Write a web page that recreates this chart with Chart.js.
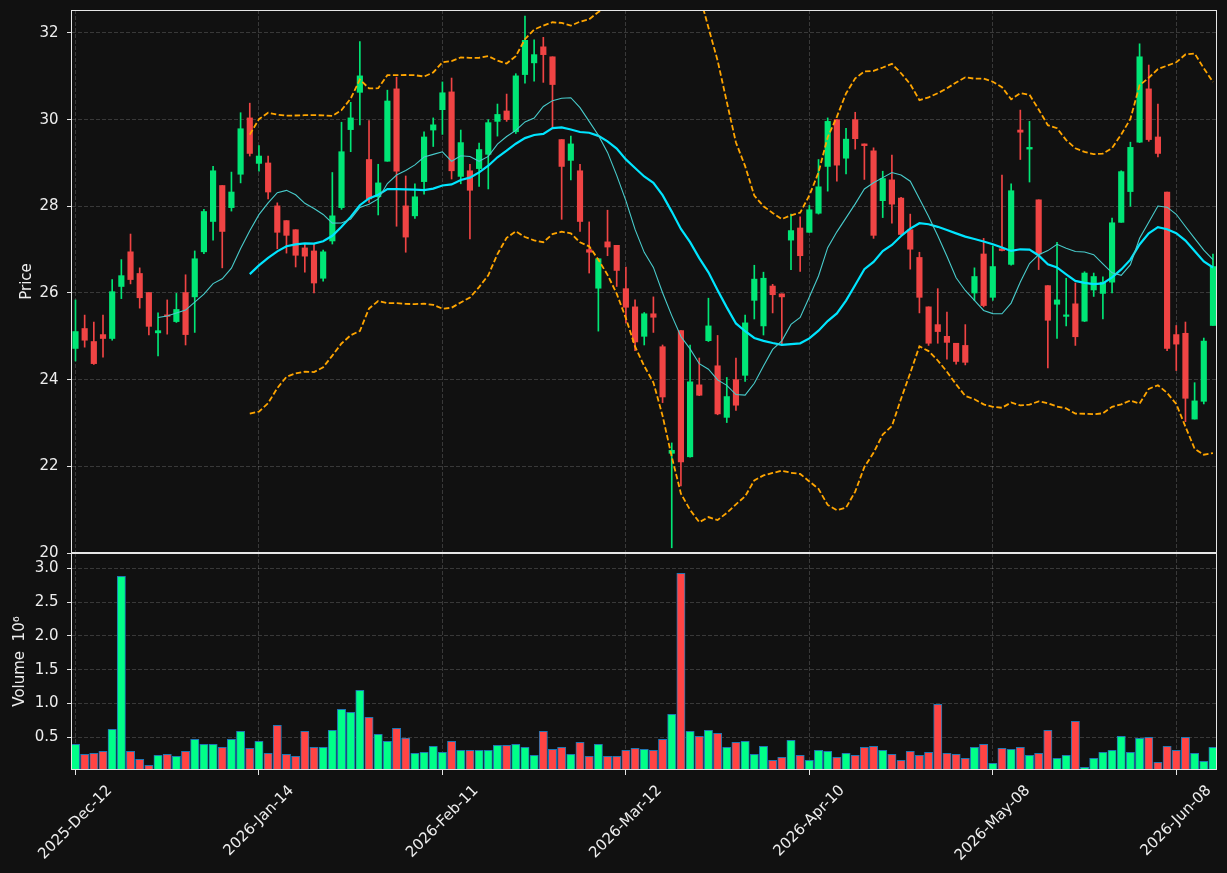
<!DOCTYPE html>
<html>
<head>
<meta charset="utf-8">
<title>Price and volume</title>
<script src="https://cdn.jsdelivr.net/npm/chart.js@4.4.1/dist/chart.umd.min.js"></script>
<style>
    body { margin: 0; background: #111111; }
    #wrap { position: relative; width: 1227px; height: 873px; }
    canvas { position: absolute; left: 0; }
    #priceChart { top: 0; }
    #volumeChart { top: 553px; }
</style>
</head>
<body>
<div id="wrap">
    <canvas id="priceChart" width="1227" height="575"></canvas>
    <canvas id="volumeChart" width="1227" height="320"></canvas>
</div>
<script>
// Daily candles (index 0 = 2025-Dec-12)
const opens = [
    24.72, 25.18, 24.88, 25.04, 24.95, 26.15, 26.95, 26.45, 26.01, 25.08,
    25.49, 25.34, 26.01, 25.91, 26.95, 27.65, 28.48, 27.97, 28.74, 30.04,
    28.99, 29.00, 28.01, 27.67, 27.46, 27.04, 26.97, 26.34, 27.20, 27.97,
    29.77, 30.63, 29.08, 28.22, 29.04, 30.71, 28.01, 27.78, 28.57, 29.76,
    30.23, 30.64, 28.69, 28.82, 28.87, 29.20, 29.96, 30.20, 29.72, 31.04,
    31.31, 31.68, 31.45, 29.54, 29.06, 28.82, 27.00, 26.11, 27.18, 27.10,
    26.10, 25.68, 25.00, 25.52, 24.76, 22.30, 25.13, 22.22, 23.88, 24.90,
    24.32, 23.13, 24.00, 24.10, 25.83, 25.24, 26.16, 25.98, 27.22, 27.50,
    27.40, 27.84, 28.92, 30.00, 29.11, 30.00, 29.44, 29.28, 28.13, 28.61,
    28.19, 27.46, 26.82, 25.68, 25.27, 25.00, 24.84, 24.79, 26.00, 26.90,
    25.90, 27.02, 26.66, 29.76, 29.32, 28.15, 26.17, 25.74, 25.46, 25.75,
    25.35, 26.07, 25.99, 26.25, 27.63, 28.34, 29.48, 30.71, 29.60, 28.33,
    25.04, 25.07, 23.09, 23.50, 25.25
];
const highs = [
    25.84, 25.49, 25.33, 25.49, 26.31, 26.77, 27.36, 26.58, 26.01, 25.54,
    25.84, 25.99, 26.42, 26.97, 27.93, 28.92, 28.48, 28.79, 30.16, 30.38,
    29.40, 29.16, 28.08, 27.67, 27.46, 27.14, 27.14, 26.99, 28.78, 29.94,
    30.40, 31.80, 29.98, 28.97, 30.68, 30.98, 28.70, 28.52, 29.72, 30.04,
    30.87, 30.96, 29.76, 28.97, 29.46, 30.00, 30.36, 30.59, 31.06, 32.39,
    31.84, 31.90, 31.45, 29.54, 29.62, 28.97, 27.64, 26.80, 27.91, 27.10,
    26.60, 25.84, 25.55, 25.91, 24.80, 22.54, 25.13, 24.80, 24.50, 25.88,
    25.02, 24.05, 24.50, 25.49, 26.64, 26.48, 26.20, 25.98, 27.82, 27.76,
    28.02, 29.08, 30.04, 30.00, 29.80, 30.17, 29.44, 29.35, 28.81, 29.18,
    28.21, 27.82, 26.94, 25.68, 26.10, 25.56, 24.84, 25.27, 26.58, 27.26,
    27.08, 28.72, 28.52, 30.22, 29.96, 28.15, 26.17, 27.17, 26.34, 26.23,
    26.49, 26.46, 26.37, 27.73, 28.82, 29.48, 31.75, 31.26, 30.36, 28.33,
    25.25, 25.33, 23.93, 24.96, 26.90
];
const lows = [
    24.43, 24.75, 24.35, 24.52, 24.91, 25.87, 26.21, 25.65, 25.03, 24.55,
    25.05, 25.32, 24.80, 25.09, 26.91, 27.22, 26.58, 27.89, 28.54, 29.16,
    28.81, 28.17, 27.02, 26.92, 26.60, 26.48, 26.00, 26.27, 27.13, 27.93,
    29.26, 29.88, 28.09, 27.80, 29.04, 27.54, 26.94, 27.72, 28.28, 29.38,
    29.66, 28.63, 28.52, 27.25, 28.46, 28.40, 29.62, 29.96, 29.68, 30.84,
    30.89, 30.86, 29.82, 27.70, 28.61, 27.42, 26.46, 25.12, 26.86, 26.15,
    25.31, 24.67, 24.80, 25.09, 23.47, 20.12, 21.55, 22.21, 23.63, 24.88,
    23.19, 23.01, 23.29, 23.96, 25.40, 25.03, 25.54, 24.79, 26.54, 26.50,
    27.40, 27.82, 28.35, 28.58, 28.75, 29.32, 28.62, 27.26, 27.74, 27.61,
    27.35, 26.55, 25.54, 24.79, 24.84, 24.47, 24.36, 24.34, 25.83, 25.68,
    25.83, 26.97, 26.64, 29.08, 28.56, 26.54, 24.27, 24.95, 25.24, 24.79,
    25.34, 25.92, 25.40, 26.00, 27.63, 28.00, 29.47, 29.50, 29.14, 24.67,
    24.21, 23.03, 23.09, 23.44, 25.25
];
const closes = [
    25.11, 24.91, 24.37, 24.95, 26.03, 26.40, 26.31, 25.89, 25.23, 25.13,
    25.46, 25.62, 25.04, 26.79, 27.88, 28.82, 27.42, 28.33, 29.79, 29.22,
    29.16, 28.33, 27.40, 27.33, 26.87, 26.85, 26.23, 26.95, 27.78, 29.26,
    30.04, 31.01, 28.17, 28.54, 30.43, 28.81, 27.29, 28.22, 29.60, 29.88,
    30.62, 28.82, 29.47, 28.37, 29.31, 29.93, 30.12, 30.00, 31.01, 31.83,
    31.50, 31.50, 30.81, 28.92, 29.44, 27.65, 26.94, 26.79, 27.06, 26.52,
    25.67, 24.87, 25.52, 25.44, 23.60, 22.37, 22.10, 23.95, 23.64, 25.24,
    23.21, 23.61, 23.41, 25.31, 26.32, 26.34, 25.96, 25.91, 27.44, 26.86,
    27.92, 28.45, 29.96, 28.95, 29.55, 29.56, 29.40, 27.33, 28.64, 28.05,
    27.35, 27.01, 25.90, 24.84, 25.11, 24.86, 24.42, 24.40, 26.38, 25.71,
    26.61, 26.98, 28.36, 29.71, 29.36, 26.90, 25.37, 25.84, 25.47, 24.99,
    26.46, 26.38, 26.25, 27.62, 28.80, 29.36, 31.45, 29.54, 29.22, 24.72,
    24.82, 23.57, 23.51, 24.89, 26.61
];
// Volume in millions
const volumes = [
    0.396, 0.249, 0.263, 0.293, 0.618, 2.882, 0.293, 0.175, 0.086, 0.234,
    0.249, 0.219, 0.293, 0.470, 0.396, 0.396, 0.352, 0.470, 0.589, 0.337,
    0.441, 0.263, 0.678, 0.249, 0.219, 0.589, 0.352, 0.352, 0.604, 0.914,
    0.870, 1.195, 0.796, 0.544, 0.441, 0.633, 0.490, 0.263, 0.278, 0.367,
    0.278, 0.441, 0.308, 0.308, 0.308, 0.308, 0.382, 0.382, 0.396, 0.352,
    0.234, 0.589, 0.323, 0.352, 0.249, 0.426, 0.219, 0.396, 0.219, 0.219,
    0.308, 0.337, 0.323, 0.308, 0.470, 0.840, 2.926, 0.589, 0.515, 0.604,
    0.559, 0.352, 0.426, 0.441, 0.249, 0.367, 0.160, 0.204, 0.456, 0.234,
    0.160, 0.308, 0.293, 0.204, 0.263, 0.234, 0.352, 0.367, 0.308, 0.249,
    0.160, 0.293, 0.234, 0.278, 0.988, 0.263, 0.249, 0.189, 0.352, 0.396,
    0.115, 0.337, 0.323, 0.352, 0.234, 0.263, 0.604, 0.189, 0.234, 0.737,
    0.056, 0.189, 0.278, 0.308, 0.515, 0.278, 0.485, 0.500, 0.130, 0.367,
    0.308, 0.500, 0.263, 0.145, 0.352
];

// Axis ticks
const tickIndex = [0, 20, 40, 60, 80, 100, 120];
const tickLabels = ['2025-Dec-12', '2026-Jan-14', '2026-Feb-11', '2026-Mar-12', '2026-Apr-10', '2026-May-08', '2026-Jun-08'];
const priceTicks = [20, 22, 24, 26, 28, 30, 32];
const volumeTicks = [0.5, 1.0, 1.5, 2.0, 2.5, 3.0];

const textColor = '#eeeeee';
const frameColor = '#e6e6e6';
const gridColor = 'rgba(255, 255, 255, 0.17)';
const font = { family: 'DejaVu Sans', size: 15 };

Chart.defaults.font.family = font.family;
Chart.defaults.font.size = font.size;
Chart.defaults.color = textColor;

const indexes = closes.map((c, i) => i);
const rising = closes.map((c, i) => c >= opens[i]);

// Rolling mean of the closes
function movingAverage(values, n) {
    const out = [];
    for (let i = n - 1; i < values.length; i++) {
        const win = values.slice(i - n + 1, i + 1);
        out.push({ x: i, y: win.reduce((a, b) => a + b, 0) / n });
    }
    return out;
}

// Bollinger band: mean +/- k sample deviations
function bollinger(values, n, k) {
    const out = [];
    for (let i = n - 1; i < values.length; i++) {
        const win = values.slice(i - n + 1, i + 1);
        const mean = win.reduce((a, b) => a + b, 0) / n;
        const sd = Math.sqrt(win.reduce((a, b) => a + (b - mean) * (b - mean), 0) / (n - 1));
        out.push({ x: i, y: mean + k * sd });
    }
    return out;
}

// Fixes the axis box so both panels share the same plot area
function fixY(scale) {
    scale.width = 72;
    scale.paddingTop = 0;
    scale.paddingBottom = 0;
}

const xRange = { type: 'linear', min: -0.38, max: 124.44, offset: false };

// White frame round each panel
const framePlugin = {
    id: 'frame',
    afterDraw(chart) {
        const { ctx, chartArea: a } = chart;
        ctx.save();
        ctx.strokeStyle = frameColor;
        ctx.lineWidth = 1;
        ctx.strokeRect(a.left - 0.5, a.top + 0.5, a.right - a.left, a.bottom - a.top - 1);
        ctx.restore();
    }
};

// Date labels turned 45 degrees, centred on their tick
const dateLabelPlugin = {
    id: 'dateLabels',
    afterDraw(chart) {
        const { ctx, chartArea, scales } = chart;
        ctx.save();
        ctx.font = `${font.size}px "${font.family}"`;
        ctx.fillStyle = textColor;
        ctx.textAlign = 'center';
        ctx.textBaseline = 'middle';
        tickIndex.forEach((v, k) => {
            const w = ctx.measureText(tickLabels[k]).width;
            const cx = scales.x.getPixelForValue(v);
            const cy = chartArea.bottom + 13 + (w + font.size) / (2 * Math.SQRT2);
            ctx.save();
            ctx.translate(cx, cy);
            ctx.rotate(-Math.PI / 4);
            ctx.fillText(tickLabels[k], 0, 0);
            ctx.restore();
        });
        ctx.restore();
    }
};

// Create price chart
function createPriceChart() {
    const candleColors = rising.map(r => r ? '#00e676' : '#f04444');
    const lineStyle = { type: 'line', pointRadius: 0, tension: 0, fill: false, order: 0 };
    const bandStyle = Object.assign({}, lineStyle, { borderColor: '#ffa500', borderWidth: 1.8, borderDash: [5.5, 2.5] });

    new Chart(document.getElementById('priceChart'), {
        type: 'bar',
        data: {
            datasets: [
                Object.assign({}, lineStyle, { data: movingAverage(closes, 10), borderColor: '#48cccc', borderWidth: 1.1 }),
                Object.assign({}, lineStyle, { data: movingAverage(closes, 20), borderColor: '#00e5ff', borderWidth: 2.2 }),
                Object.assign({}, bandStyle, { data: bollinger(closes, 20, 2) }),
                Object.assign({}, bandStyle, { data: bollinger(closes, 20, -2) }),
                {
                    data: indexes.map(i => ({ x: i, y: [lows[i], highs[i]] })),
                    backgroundColor: candleColors,
                    barThickness: 1,
                    grouped: false,
                    order: 2
                },
                {
                    data: indexes.map(i => ({ x: i, y: [opens[i], closes[i]] })),
                    backgroundColor: candleColors,
                    barThickness: 5.5,
                    minBarLength: 1.5,
                    grouped: false,
                    order: 1
                }
            ]
        },
        options: {
            responsive: false,
            animation: false,
            events: [],
            layout: { padding: { left: 0, right: 10, top: 10, bottom: 22 } },
            plugins: { legend: { display: false }, tooltip: { enabled: false } },
            scales: {
                x: Object.assign({}, xRange, {
                    afterBuildTicks: s => { s.ticks = tickIndex.map(v => ({ value: v })); },
                    afterFit: s => { s.height = 0; s.paddingLeft = 0; s.paddingRight = 0; },
                    ticks: { display: false },
                    grid: { color: gridColor, drawTicks: false, offset: false },
                    border: { display: false, dash: [4, 2] }
                }),
                y: {
                    type: 'linear',
                    min: 20,
                    max: 32.53,
                    afterBuildTicks: s => { s.ticks = priceTicks.map(v => ({ value: v })); },
                    afterFit: fixY,
                    ticks: { color: textColor, padding: 8.5, callback: v => v.toFixed(0) },
                    grid: { color: gridColor, tickColor: frameColor, tickLength: 5, tickWidth: 1 },
                    border: { display: false, dash: [4, 2] },
                    title: { display: true, text: 'Price', color: textColor, padding: { top: 18, bottom: 0 } }
                }
            }
        },
        plugins: [framePlugin]
    });
}

// Create volume chart
function createVolumeChart() {
    new Chart(document.getElementById('volumeChart'), {
        type: 'bar',
        data: {
            datasets: [{
                data: indexes.map(i => ({ x: i, y: volumes[i] })),
                backgroundColor: rising.map(r => r ? '#00ff88' : '#ff4444'),
                borderColor: '#1f77b4',
                borderWidth: 1,
                borderSkipped: false,
                barThickness: 8.3,
                grouped: false
            }]
        },
        options: {
            responsive: false,
            animation: false,
            events: [],
            layout: { padding: { left: 0, right: 10, top: 0, bottom: 0 } },
            plugins: { legend: { display: false }, tooltip: { enabled: false } },
            scales: {
                x: Object.assign({}, xRange, {
                    afterBuildTicks: s => { s.ticks = tickIndex.map(v => ({ value: v })); },
                    afterFit: s => { s.height = 103; s.paddingLeft = 0; s.paddingRight = 0; },
                    ticks: { display: false },
                    grid: { color: gridColor, tickColor: frameColor, tickLength: 5, tickWidth: 1, offset: false },
                    border: { display: false, dash: [4, 2] }
                }),
                y: {
                    type: 'linear',
                    min: 0.016,
                    max: 3.226,
                    afterBuildTicks: s => { s.ticks = volumeTicks.map(v => ({ value: v })); },
                    afterFit: fixY,
                    ticks: { color: textColor, padding: 8.5, callback: v => v.toFixed(1) },
                    grid: { color: gridColor, tickColor: frameColor, tickLength: 5, tickWidth: 1 },
                    border: { display: false, dash: [4, 2] },
                    title: { display: true, text: 'Volume  10\u2076', color: textColor, padding: { top: 11, bottom: 0 } }
                }
            }
        },
        plugins: [framePlugin, dateLabelPlugin]
    });
}

createPriceChart();
createVolumeChart();
</script>
</body>
</html>
